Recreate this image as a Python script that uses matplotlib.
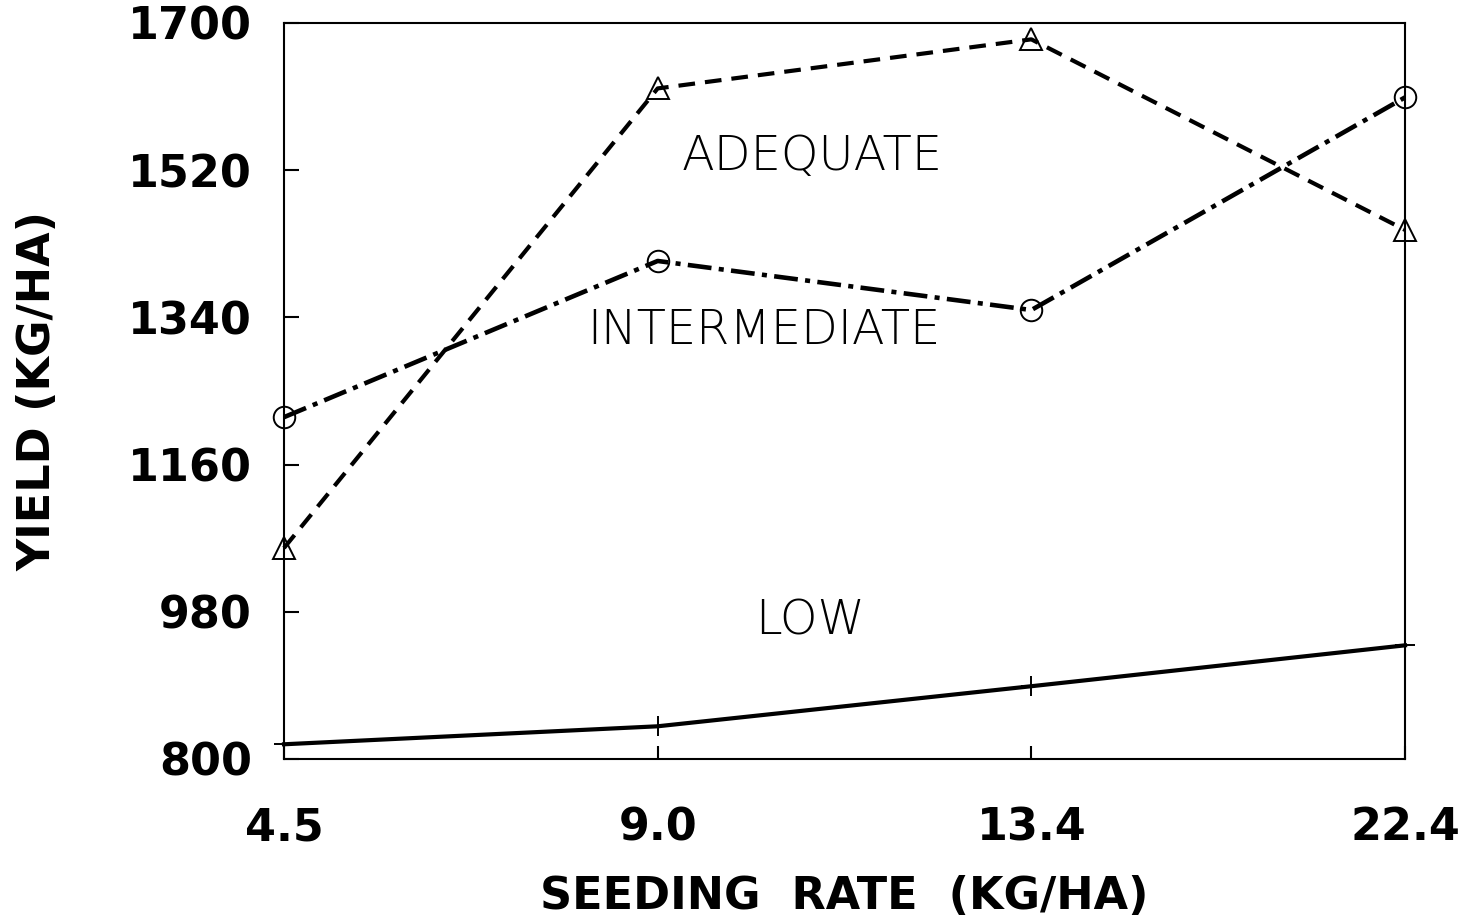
import matplotlib
matplotlib.use('Agg')
import matplotlib.pyplot as plt

# dados
taxas = ['4.5', '9.0', '13.4', '22.4']
adequado = [1058, 1620, 1680, 1447]
intermediario = [1218, 1409, 1349, 1609]
baixo = [818, 840, 889, 939]
yticks = [800, 980, 1160, 1340, 1520, 1700]

plt.rcParams['font.family'] = ['DejaVu Sans']

fig = plt.figure(figsize=(14.73, 9.19), dpi=100)
ax = fig.add_axes([284 / 1473, 1 - 759 / 919, 1121 / 1473, 736 / 919])

x = list(range(len(taxas)))

ax.plot(x, adequado, color='black', lw=3, dashes=(4, 2.4),
        marker='^', ms=16, mfc='none', mec='black', mew=1.4, clip_on=False)
ax.plot(x, intermediario, color='black', lw=3.3, dashes=(5.2, 1.6, 1.1, 1.6),
        marker='o', ms=15.5, mfc='none', mec='black', mew=1.4, clip_on=False)
ax.plot(x, baixo, color='black', lw=3, marker='+', ms=15, mew=1.4,
        clip_on=False)

ax.set_xlim(0, 3)
ax.set_ylim(800, 1700)
ax.set_xticks(x)
ax.set_xticklabels(taxas)
ax.set_yticks(yticks)
ax.set_yticklabels([str(v) for v in yticks])

ax.tick_params(axis='y', direction='in', length=11, width=1.5, pad=23,
               labelsize=32)
ax.tick_params(axis='x', direction='in', length=9.5, width=1.5, pad=34,
               labelsize=32)
for lab in ax.get_xticklabels() + ax.get_yticklabels():
    lab.set_fontweight('bold')

for s in ax.spines.values():
    s.set_linewidth(1.5)

ax.set_xlabel('SEEDING  RATE  (KG/HA)', fontsize=32, fontweight='bold')
ax.xaxis.set_label_coords(0.5, -0.157)
ax.set_ylabel('YIELD (KG/HA)', fontsize=32, fontweight='bold')
ax.yaxis.set_label_coords(-0.200, 0.5)

ax.text(1.414, 1520, 'ADEQUATE', fontsize=34.5, fontweight='light',
        ha='center', va='baseline')
ax.text(1.283, 1307, 'INTERMEDIATE', fontsize=34.5, fontweight='light',
        ha='center', va='baseline')
ax.text(1.409, 952, 'LOW', fontsize=34.5, fontweight='light',
        ha='center', va='baseline')

fig.savefig('out.png', dpi=100, facecolor='white')
